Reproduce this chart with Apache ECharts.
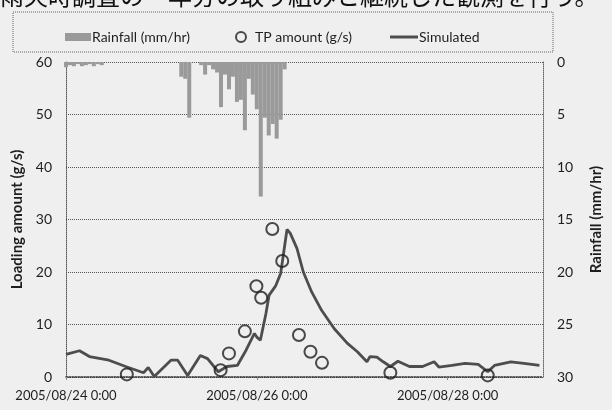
<!DOCTYPE html>
<html>
<head>
<meta charset="utf-8">
<script src="https://cdn.jsdelivr.net/npm/echarts@6/dist/echarts.min.js"></script>
<style>
  html, body { margin: 0; padding: 0; background: #efefef; }
  #chart { width: 612px; height: 410px; }
</style>
</head>
<body>
<div id="chart"></div>
<script>
// Hours elapsed since 2005/08/24 0:00
const xTickLabels = ['2005/08/24 0:00', '2005/08/26 0:00', '2005/08/28 0:00'];

// Hourly rainfall (mm/hr): [hour, value]
const rainfall = [
  [0, 0.5], [1, 0.3], [2, 0.4], [3, 0.2], [4, 0.4], [5, 0.3], [6, 0.2], [7, 0.4], [8, 0.2], [9, 0.3],
  [29, 1.4], [30, 1.6], [31, 5.3], [34, 0.3], [35, 1.2], [36, 0.3], [37, 0.7], [38, 1.0],
  [39, 4.3], [40, 1.2], [41, 2.6], [42, 1.4], [43, 3.8], [44, 3.6], [45, 6.5], [46, 1.6],
  [47, 3.1], [48, 4.5], [49, 12.8], [50, 5.3], [51, 7.0], [52, 5.9], [53, 7.3], [54, 5.5], [55, 0.7]
];

// Observed TP loading (g/s): [hour, value]
const tpObserved = [
  [15.3, 0.5], [38.9, 1.3], [41.0, 4.5], [45.0, 8.7], [47.9, 17.3], [49.1, 15.1],
  [51.9, 28.2], [54.4, 22.1], [58.6, 8.0], [61.5, 4.8], [64.4, 2.7], [81.6, 0.8], [106.1, 0.3]
];

// Simulated TP loading (g/s): [hour, value]
const simulated = [
  [0, 4.3], [3.4, 5.0], [5.9, 3.9], [10.8, 3.2], [15.0, 2.0], [19.5, 0.8], [20.7, 1.8], [22.2, 0.1],
  [26.4, 3.2], [28.1, 3.2], [30.6, 0.3], [33.8, 4.1], [35.6, 3.5], [38.3, 1.0], [40.5, 2.0],
  [43.1, 2.2], [45.3, 5.1], [47.4, 8.3], [48.0, 7.6], [48.9, 7.0], [50.3, 12.1], [51.1, 15.6],
  [52.7, 17.3], [54.0, 19.7], [54.8, 23.9], [55.6, 28.1], [56.4, 27.4], [58.1, 24.5], [59.7, 20.0],
  [61.8, 16.2], [64.3, 12.7], [67.5, 9.2], [70.8, 6.4], [73.3, 4.8], [75.7, 2.9], [76.5, 3.9],
  [78.2, 3.8], [79.8, 2.9], [81.6, 2.0], [83.5, 3.0], [86.4, 2.0], [89.7, 2.0], [92.6, 2.9],
  [93.8, 1.9], [97.1, 2.2], [100.4, 2.6], [103.7, 2.4], [106.1, 1.0], [107.8, 2.2], [111.9, 2.9],
  [115.2, 2.6], [119.1, 2.2]
];

const FONT = 'Lato';
const dark = '#1e1e1e';

const chart = echarts.init(document.getElementById('chart'), null, { renderer: 'canvas' });
chart.setOption({
  backgroundColor: '#efefef',
  animation: false,
  textStyle: { fontFamily: FONT },
  graphic: [
    {
      type: 'text', left: 0, top: -16,
      style: { text: '雨天時調査の一年分の取り組みと継続した観測を行う。', font: '24px "Noto Sans CJK JP"', fill: '#111' }
    },
    {
      type: 'rect', shape: { x: 13, y: 12, width: 540, height: 40 },
      style: { fill: 'none', stroke: '#666', lineWidth: 1, lineDash: [1, 1] }
    }
  ],
  legend: [
    {
      left: 60, top: 25, itemWidth: 26, itemHeight: 8, itemGap: 0,
      textStyle: { fontFamily: FONT, fontSize: 14, color: dark, padding: [0, 0, 0, -4] },
      data: [{ name: 'Rainfall (mm/hr)', icon: 'rect' }]
    },
    {
      left: 230, top: 25, itemWidth: 14, itemHeight: 10, itemGap: 0,
      textStyle: { fontFamily: FONT, fontSize: 14, color: dark, padding: [0, 0, 0, 2] },
      data: [{ name: 'TP amount (g/s)', icon: 'circle', itemStyle: { color: 'rgba(0,0,0,0)', borderColor: dark, borderWidth: 2 } }]
    },
    {
      left: 385, top: 25, itemWidth: 28, itemHeight: 3, itemGap: 0,
      textStyle: { fontFamily: FONT, fontSize: 14, color: dark, padding: [0, 0, 0, -4] },
      data: [{ name: 'Simulated', icon: 'rect', itemStyle: { color: '#4d4d4d' } }]
    }
  ],
  grid: { left: 66, right: 59, top: 62, bottom: 33, containLabel: false },
  xAxis: {
    type: 'value', min: 0, max: 120, interval: 48,
    axisLine: { show: true, lineStyle: { color: '#333', width: 1.5, type: 'dotted' } },
    axisTick: { show: true, length: 3, lineStyle: { color: '#888' } },
    splitLine: { show: false },
    axisLabel: {
      showMaxLabel: false, margin: 12, fontSize: 13, color: dark, fontFamily: FONT,
      formatter: v => xTickLabels[Math.round(v / 48)] || ''
    }
  },
  yAxis: [
    {
      type: 'value', min: 0, max: 60, interval: 10, position: 'left',
      name: 'Loading amount (g/s)', nameLocation: 'middle', nameGap: 40,
      nameTextStyle: { fontFamily: FONT, fontSize: 15, fontWeight: 'bold', color: dark },
      axisLine: { show: true, lineStyle: { color: '#555', type: 'dotted' } },
      axisTick: { show: false },
      axisLabel: { fontSize: 14, color: dark, fontFamily: FONT, margin: 14 },
      splitLine: { show: true, lineStyle: { color: '#555', type: 'dotted', width: 1 } }
    },
    {
      type: 'value', min: 0, max: 30, interval: 5, position: 'right', inverse: true,
      name: 'Rainfall (mm/hr)', nameLocation: 'middle', nameGap: 46, nameRotate: 90,
      nameTextStyle: { fontFamily: FONT, fontSize: 15, fontWeight: 'bold', color: dark },
      axisLine: { show: true, lineStyle: { color: '#666', type: 'dotted' } },
      axisTick: { show: false },
      axisLabel: { fontSize: 14, color: dark, fontFamily: FONT, margin: 14 },
      splitLine: { show: false }
    }
  ],
  series: [
    {
      name: 'Rainfall (mm/hr)', type: 'bar', yAxisIndex: 1, barWidth: 4,
      itemStyle: { color: '#9a9a9a' },
      data: rainfall
    },
    {
      name: 'Simulated', type: 'line', yAxisIndex: 0, symbol: 'none', smooth: false,
      lineStyle: { color: '#4d4d4d', width: 2.8 },
      itemStyle: { color: '#4d4d4d' },
      data: simulated, z: 3
    },
    {
      name: 'TP amount (g/s)', type: 'scatter', yAxisIndex: 0, symbol: 'circle', symbolSize: 12,
      itemStyle: { color: 'rgba(0,0,0,0)', borderColor: dark, borderWidth: 2 },
      data: tpObserved, z: 4
    }
  ]
});
</script>
</body>
</html>
